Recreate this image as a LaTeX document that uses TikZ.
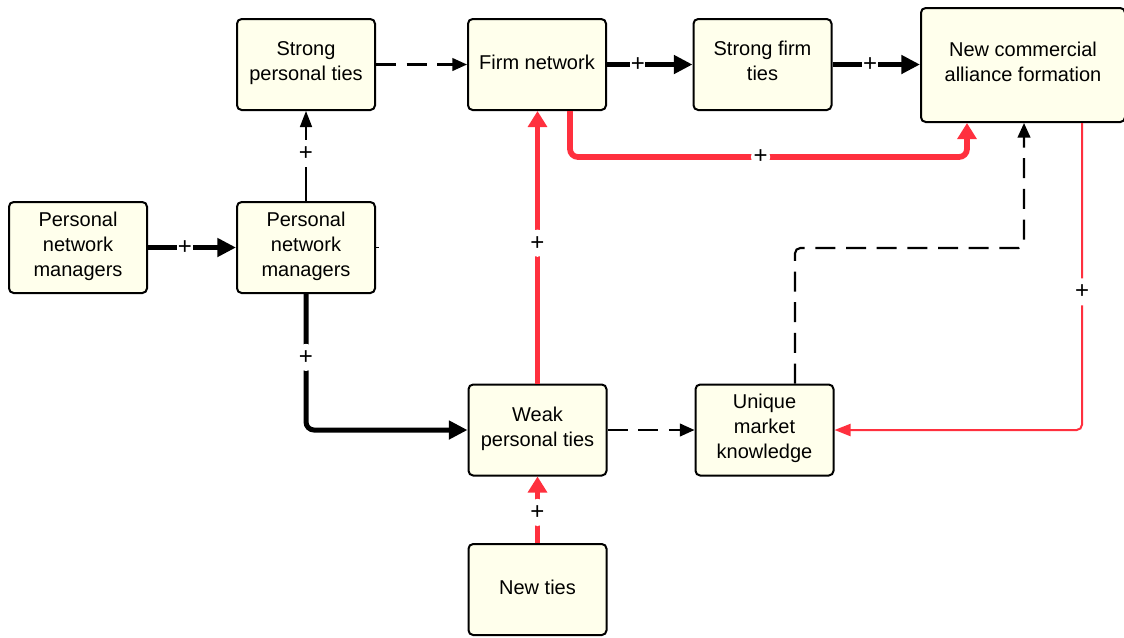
\documentclass[tikz,border=0pt]{standalone}
\usepackage{fontspec}
\setmainfont{Liberation Sans}
\usetikzlibrary{arrows.meta,calc}
\definecolor{boxfill}{RGB}{255,255,236}
\definecolor{linkred}{RGB}{255,48,62}
\begin{document}
\begin{tikzpicture}[x=0.75pt,y=-0.75pt,
  box/.style={draw=black,line width=1.5pt,fill=boxfill,rounded corners=3.5pt,
    minimum width=103.5pt,minimum height=68.25pt,align=center,inner sep=2pt,
    font=\fontsize{15}{18.75}\selectfont,
    execute at begin node=\strut, execute at end node=\strut},
  plus/.style={fill=white,inner xsep=0.5pt,inner ysep=5pt,font=\fontsize{18}{18}\selectfont},
  thickblk/.style={line width=3.75pt,-{Triangle[length=14pt,width=13.5pt]}},
  thinblk/.style={line width=1.2pt,-{Triangle[length=12pt,width=9pt]}},
  dashblk/.style={line width=1.6pt,dash pattern=on 15pt off 8pt,-{Triangle[length=11pt,width=9.5pt]}},
  thickred/.style={draw=linkred,line width=4.3pt,rounded corners=6pt,-{Triangle[length=12pt,width=14pt]}},
  thinred/.style={draw=linkred,line width=1.5pt,rounded corners=4pt,-{Triangle[length=12pt,width=9pt]}}
]
\useasboundingbox (0,0) rectangle (1124,637);
\node[box] (pnm1) at (78,247.5) {Personal\\network\\managers};
\node[box] (pnm2) at (306,247.5) {Personal\\network\\managers};
\node[box] (spt) at (306,64.5) {Strong\\personal ties};
\node[box] (fn) at (537,64.5) {Firm network};
\node[box] (sft) at (762.5,64.5) {Strong firm\\ties};
\node[box,minimum width=153pt,minimum height=85.5pt] (ncaf) at (1023,65) {New commercial\\alliance formation};
\node[box] (wpt) at (537.5,430) {Weak\\personal ties};
\node[box] (umk) at (764.5,430) {Unique\\market\\knowledge};
\node[box] (nt) at (537.5,589.5) {New ties};

\draw[thickblk] (pnm1) -- node[plus,pos=0.42]{+} (pnm2);
\draw[thinblk] (pnm2) -- node[plus,pos=0.53]{+} (spt);
\draw[dashblk] (spt) -- (fn);
\draw[thickblk] (fn) -- node[plus,pos=0.36]{+} (sft);
\draw[thickblk] (sft) -- node[plus,pos=0.43]{+} (ncaf.west|-sft);
\draw[thickblk,rounded corners=6pt] (pnm2.south) |- node[plus,pos=0.233]{+} (wpt.west);
\draw[thickred] (wpt.north) -- node[plus,pos=0.515]{+} (wpt.north|-fn.south);
\draw[dashblk] (wpt) -- (umk);
\draw[thickred] (nt.north) -- node[plus,pos=0.46]{+} (wpt.south);
\draw[thickred] ($(fn.south)+(33,0)$) |- node[plus,pos=0.74,inner ysep=0.5pt,inner xsep=2pt]{+} ($(ncaf.south)+(-56,34)$) -- ($(ncaf.south)+(-56,0)$);
\draw[dashblk,rounded corners=4pt] ($(umk.north)+(30.5,0)$) |- ($(ncaf.south)+(1,125)$) -- ($(ncaf.south)+(1,0)$);
\draw[thinred] ($(ncaf.south)+(59,0)$) |- node[plus,pos=0.275]{+} (umk.east);
\draw[line width=0.8pt] (pnm2.east) -- ++(3,0);
\end{tikzpicture}
\end{document}
